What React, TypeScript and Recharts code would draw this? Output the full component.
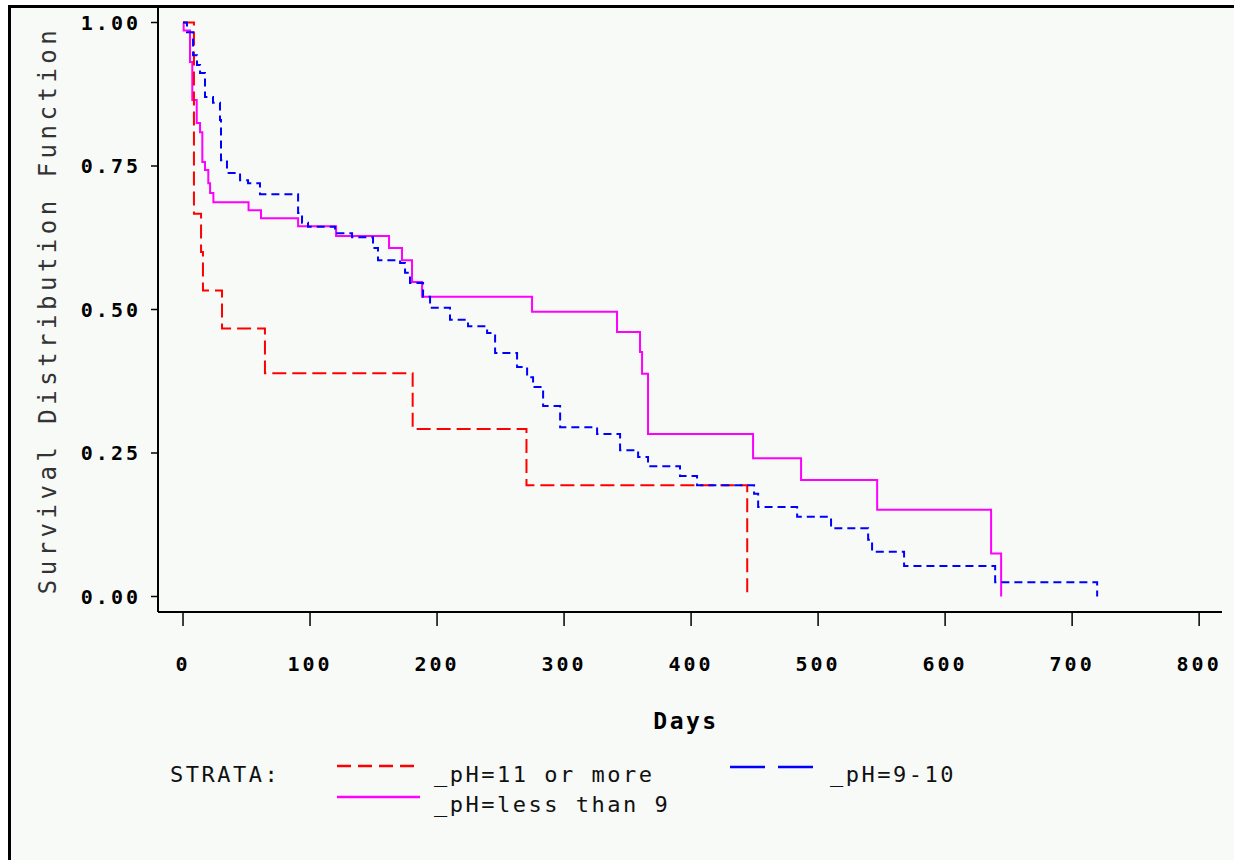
import React from "react";
import { LineChart, Line, XAxis, YAxis } from "recharts";

// Kaplan-Meier estimates (days, survival)
const redDays = [0, 8.6, 14.2, 15.7, 30.7, 64.5, 180.8, 270.4, 444.2];
const redSurv = [1, 0.667, 0.6, 0.533, 0.467, 0.389, 0.292, 0.194, 0];

const magentaDays = [
  0, 0.5, 5.5, 7.3, 10.8, 13.4, 15.2, 17.3, 19.9, 21.3, 23.9, 51.6, 61.4, 90.6,
  120.5, 162.2, 172.4, 180.3, 188.2, 274.8, 341.7, 359.8, 361.4, 366.1, 448.8,
  486.6, 546.5, 636.2, 644.1,
];
const magentaSurv = [
  1, 0.986, 0.931, 0.865, 0.825, 0.809, 0.757, 0.743, 0.72, 0.703, 0.687,
  0.673, 0.659, 0.645, 0.628, 0.607, 0.586, 0.548, 0.522, 0.496, 0.461, 0.426,
  0.388, 0.283, 0.241, 0.203, 0.151, 0.075, 0,
];

const blueDays = [
  0, 3.1, 7.9, 11, 13.4, 17.3, 23.6, 29.1, 29.9, 34.6, 44.9, 51.2, 60.6, 90.6,
  93.7, 98.4, 119.7, 133.1, 149.6, 153.5, 170.9, 174.8, 178.7, 189, 194.5,
  210.2, 224.4, 239.4, 245.7, 263, 270.9, 275.6, 283.5, 296.9, 326, 344.1,
  358.3, 366.1, 391.3, 404.7, 449.6, 452.8, 483.5, 510.2, 539.4, 542.5, 567.7,
  639.4, 719.7,
];
const blueSurv = [
  1, 0.983, 0.943, 0.926, 0.912, 0.87, 0.86, 0.83, 0.76, 0.738, 0.725, 0.72,
  0.701, 0.668, 0.651, 0.644, 0.633, 0.626, 0.607, 0.586, 0.581, 0.564, 0.546,
  0.522, 0.503, 0.482, 0.471, 0.459, 0.424, 0.4, 0.382, 0.365, 0.332, 0.295,
  0.283, 0.255, 0.243, 0.227, 0.21, 0.194, 0.179, 0.156, 0.139, 0.119, 0.099,
  0.078, 0.053, 0.025, 0,
];

const xTicks = [0, 100, 200, 300, 400, 500, 600, 700, 800];
const yTicks = [0, 0.25, 0.5, 0.75, 1];

const toRows = (days: number[], surv: number[]) =>
  days.map((d, i) => ({ day: d, s: surv[i] }));

const MONO = "'DejaVu Sans Mono', monospace";
const BG = "#f7faf7";

const XTick = ({ x, y, payload }: any) => (
  <text
    x={x}
    y={y + 14.5}
    textAnchor="middle"
    fontFamily={MONO}
    fontSize={20}
    fontWeight="bold"
    fill="#000"
    style={{ letterSpacing: 3 }}
  >
    {payload.value}
  </text>
);

const YTick = ({ x, y, payload }: any) => (
  <text
    x={x}
    y={y + 7.3}
    textAnchor="end"
    fontFamily={MONO}
    fontSize={20}
    fontWeight="bold"
    fill="#000"
    style={{ letterSpacing: 3 }}
  >
    {Number(payload.value).toFixed(2)}
  </text>
);

export default function App() {
  const red = toRows(redDays, redSurv);
  const magenta = toRows(magentaDays, magentaSurv);
  const blue = toRows(blueDays, blueSurv);
  const xDomain = [-19.7, 818];
  const yDomain = [-0.027, 1.027];

  return (
    <div style={{ position: "absolute", left: 0, top: 0, width: 1234, height: 860, background: "#fff", overflow: "hidden" }}>
      <style>{`html,body{margin:0;padding:0;overflow:hidden;background:#fff}`}</style>
      <div
        style={{
          position: "absolute",
          left: 8,
          top: 5,
          width: 1226,
          height: 855,
          boxSizing: "border-box",
          borderLeft: "3px solid #000",
          borderTop: "3px solid #000",
          background: BG,
        }}
      />
      <div style={{ position: "absolute", left: 0, top: 0 }}>
        <LineChart width={1234} height={860} margin={{ top: 7, right: 12, bottom: 188, left: 0 }}>
          <XAxis
            xAxisId="b"
            type="number"
            dataKey="day"
            domain={xDomain}
            allowDataOverflow
            ticks={xTicks}
            interval={0}
            height={60}
            tickSize={14}
            tickMargin={30}
            axisLine={{ stroke: "#000", strokeWidth: 2 }}
            tickLine={{ stroke: "#000", strokeWidth: 1.5 }}
            tick={<XTick />}
          />
          <XAxis
            xAxisId="t"
            orientation="top"
            type="number"
            dataKey="day"
            domain={xDomain}
            allowDataOverflow
            height={0}
            tick={false}
            tickLine={false}
            axisLine={{ stroke: "#000", strokeWidth: 2 }}
          />
          <YAxis
            yAxisId="l"
            type="number"
            domain={yDomain}
            allowDataOverflow
            ticks={yTicks}
            interval={0}
            width={158}
            tickSize={7}
            tickMargin={10}
            axisLine={{ stroke: "#000", strokeWidth: 2 }}
            tickLine={{ stroke: "#000", strokeWidth: 1.5 }}
            tick={<YTick />}
          />
          <YAxis
            yAxisId="r"
            orientation="right"
            type="number"
            domain={yDomain}
            allowDataOverflow
            width={0}
            tick={false}
            tickLine={false}
            axisLine={{ stroke: "#5a5a5a", strokeWidth: 2 }}
          />
          <Line
            xAxisId="b"
            yAxisId="l"
            data={magenta}
            dataKey="s"
            type="stepAfter"
            stroke="#ff00ff"
            strokeWidth={2}
            dot={false}
            isAnimationActive={false}
          />
          <Line
            xAxisId="b"
            yAxisId="l"
            data={red}
            dataKey="s"
            type="stepAfter"
            stroke="#ff0000"
            strokeWidth={2}
            strokeDasharray="14 6"
            dot={false}
            isAnimationActive={false}
          />
          <Line
            xAxisId="b"
            yAxisId="l"
            data={blue}
            dataKey="s"
            type="stepAfter"
            stroke="#0000ff"
            strokeWidth={2}
            strokeDasharray="8 5"
            dot={false}
            isAnimationActive={false}
          />
        </LineChart>
      </div>
      <svg width={1234} height={860} style={{ position: "absolute", left: 0, top: 0, pointerEvents: "none" }}>
        <text
          transform="translate(56, 310) rotate(-90)"
          textAnchor="middle"
          fontFamily={MONO}
          fontSize={24}
          fill="#333"
          style={{ letterSpacing: 4.5 }}
        >
          Survival Distribution Function
        </text>
        <text x={686} y={729} textAnchor="middle" fontFamily={MONO} fontSize={23} fontWeight="bold" fill="#000" style={{ letterSpacing: 2.5 }}>
          Days
        </text>
        <g fontFamily={MONO} fontSize={22} fill="#111" style={{ letterSpacing: 2.5 }}>
          <text x={170} y={782}>STRATA:</text>
          <line x1={337} x2={416} y1={766} y2={766} stroke="#ff0000" strokeWidth={2.5} strokeDasharray="14 7" />
          <text x={434} y={782}>_pH=11 or more</text>
          <line x1={730} x2={813} y1={767} y2={767} stroke="#0000ff" strokeWidth={2.5} strokeDasharray="35 13" />
          <text x={830} y={782}>_pH=9-10</text>
          <line x1={337} x2={420} y1={797} y2={797} stroke="#ff00ff" strokeWidth={2.5} />
          <text x={434} y={812}>_pH=less than 9</text>
        </g>
      </svg>
    </div>
  );
}
